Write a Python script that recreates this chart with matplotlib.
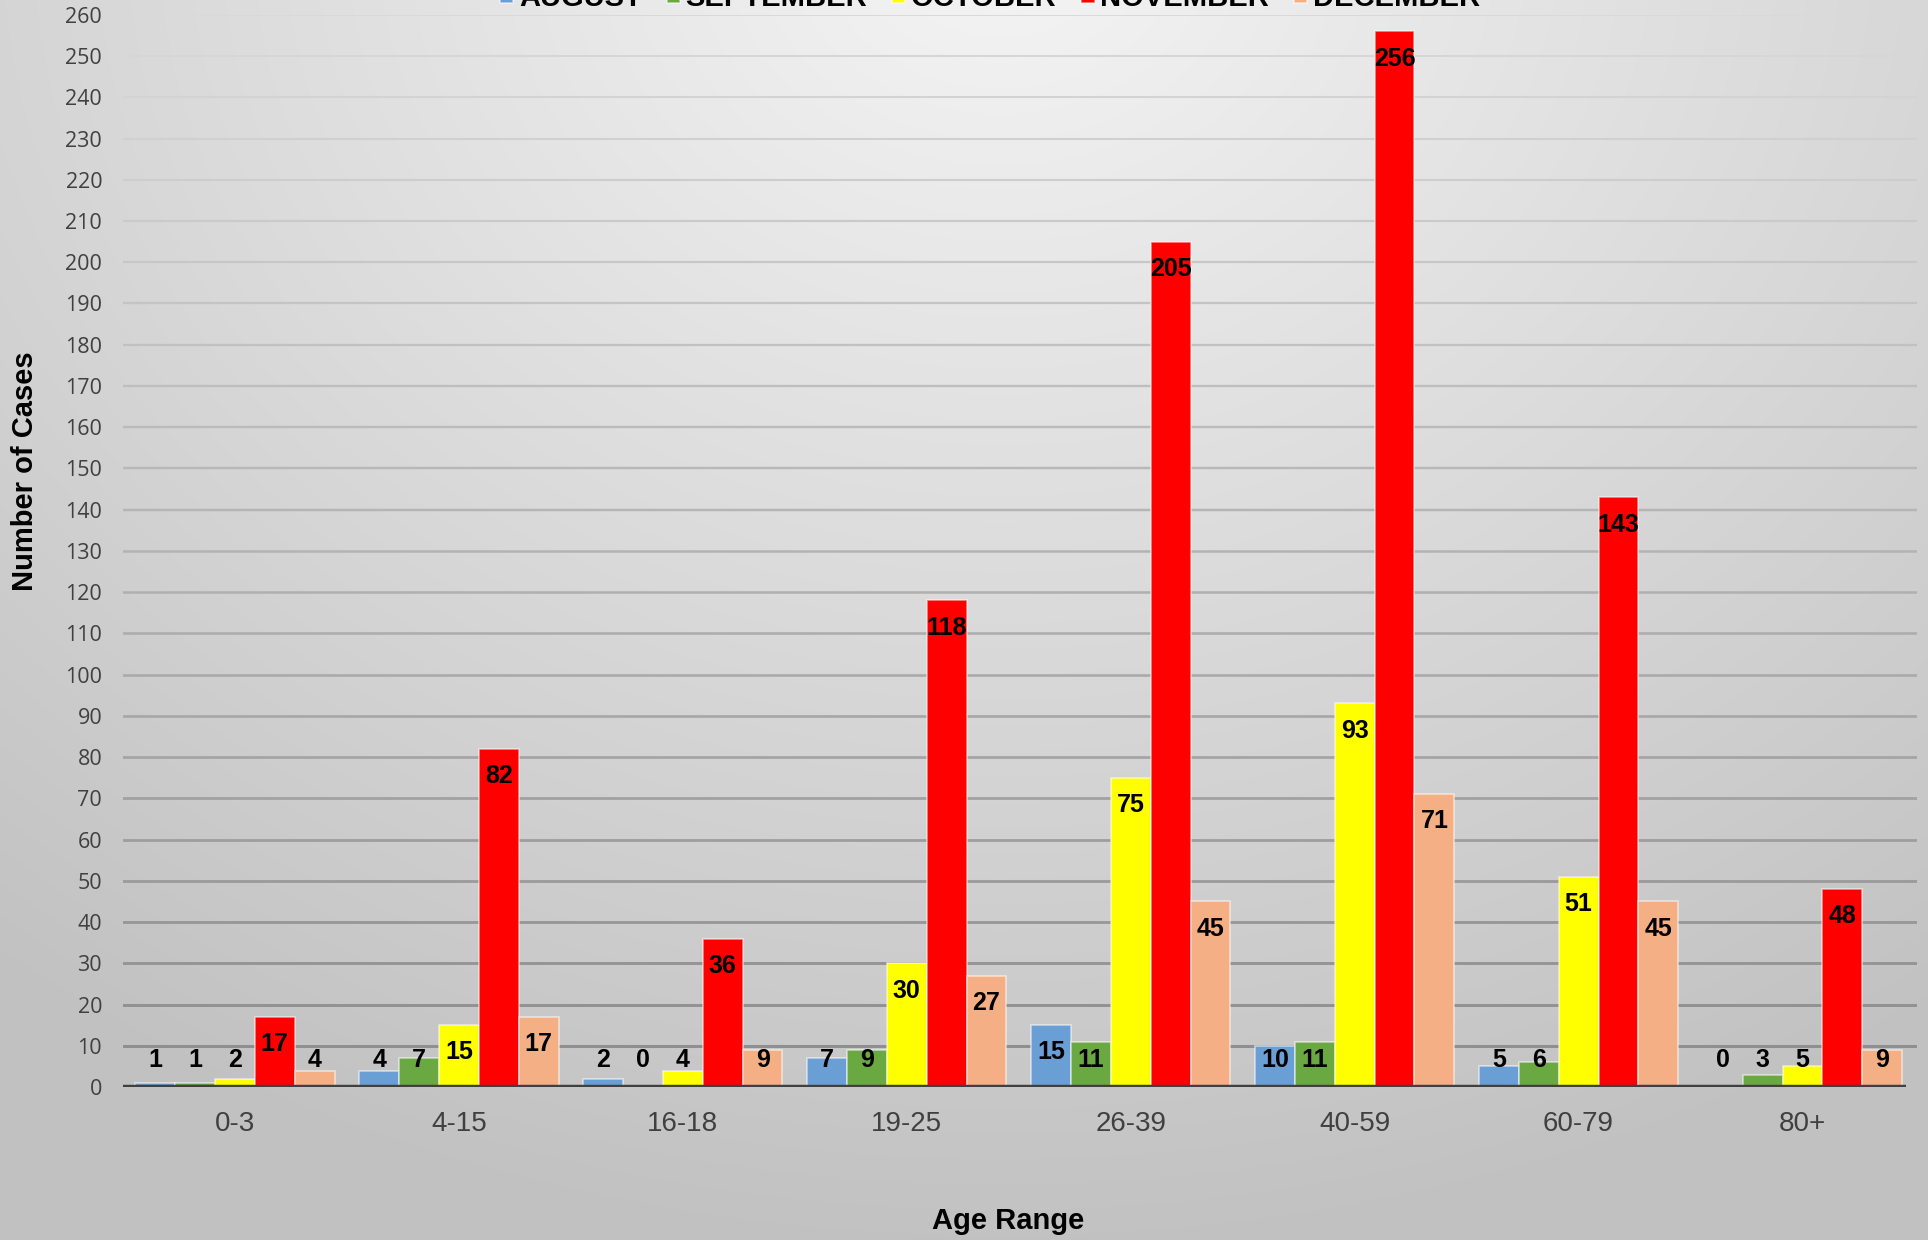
import numpy as np
import matplotlib
matplotlib.use("Agg")
import matplotlib.pyplot as plt

categories = ["0-3", "4-15", "16-18", "19-25", "26-39", "40-59", "60-79", "80+"]
series_names = ["AUGUST", "SEPTEMBER", "OCTOBER", "NOVEMBER", "DECEMBER"]
august = [1, 4, 2, 7, 15, 10, 5, 0]
september = [1, 7, 0, 9, 11, 11, 6, 3]
october = [2, 15, 4, 30, 75, 93, 51, 5]
november = [17, 82, 36, 118, 205, 256, 143, 48]
december = [4, 17, 9, 27, 45, 71, 45, 9]
series = [august, september, october, november, december]
colors = ["#6a9fd6", "#6aa842", "#ffff00", "#ff0000", "#f4b084"]
yticks = list(range(0, 261, 10))

W, H = 1928, 1240
fig = plt.figure(figsize=(W / 100, H / 100), dpi=100)

# background radial gradient
bg = fig.add_axes([0, 0, 1, 1], zorder=-10)
yy, xx = np.mgrid[0:H, 0:W]
cx, cy = 1000, -60
d = np.sqrt(((xx - cx) / 1600.0) ** 2 + ((yy - cy) / 1300.0) ** 2)
d = np.clip(d, 0, 1)
val = 0.96 - 0.20 * d
bg.imshow(np.dstack([val, val, val]), aspect="auto", extent=[0, W, H, 0])
bg.set_xlim(0, W)
bg.set_ylim(H, 0)
bg.axis("off")

# axes geometry
left, right = 123, 1917
y0, ytop = 1087, 14.8
ax = fig.add_axes([left / W, 1 - y0 / H, (right - left) / W, (y0 - ytop) / H])
ax.patch.set_alpha(0)
px_per_cat = (1914.5 - 123) / 8.0
ax.set_xlim(-0.5, 7.5 + (right - 1914.5) / px_per_cat)
ax.set_ylim(0, 260)
for s in ax.spines.values():
    s.set_visible(False)

# gridlines with slight gradient
for t in yticks[1:]:
    f = t / 260.0
    c = 0.55 + 0.30 * f
    ax.axhline(t, color=(c, c, c), lw=2.2 - 0.8 * f, zorder=1)

n = len(series)
bw = 0.178
x = np.arange(len(categories))
handles = []
for i, (vals, col) in enumerate(zip(series, colors)):
    pos = x + (i - (n - 1) / 2) * bw
    b = ax.bar(pos, vals, width=bw, color=col, edgecolor=(1, 1, 1, 0.55),
               linewidth=1.2, zorder=3, label=series_names[i])
    handles.append(b)
    for p, v in zip(pos, vals):
        ly = max(v - 6.6, 6.56)
        ax.text(p, ly, str(v), ha="center", va="center", fontsize=18,
                fontweight="bold", color="black", zorder=5,
                family=["Liberation Sans", "DejaVu Sans"])

ax.hlines(0, -0.5, 7.46, color="#404040", lw=3.2, zorder=4)

ax.set_yticks(yticks)
ax.set_yticklabels([str(t) for t in yticks], fontsize=15.5, color="#404040",
                   family=["Open Sans", "DejaVu Sans"])
ax.set_xticks(x)
ax.set_xticklabels(categories, fontsize=20, color="#404040",
                   family=["Liberation Sans", "DejaVu Sans"])
ax.tick_params(axis="y", length=0, pad=15)
ax.tick_params(axis="x", length=0, pad=17)

fig.text(24.6 / W, 1 - 471 / H, "Number of Cases", rotation=90, ha="center",
         va="center", fontsize=21, fontweight="bold", color="black",
         family=["Liberation Sans", "DejaVu Sans"])
fig.text(1008 / W, 1 - 1221 / H, "Age Range", ha="center", va="center",
         fontsize=21, fontweight="bold", color="black",
         family=["Liberation Sans", "DejaVu Sans"])

# legend (cut off at top as in reference)
leg = fig.legend(handles=handles, labels=series_names, loc="center",
                 bbox_to_anchor=(990 / W, 1 + 2 / H), ncol=5, frameon=False,
                 handlelength=0.45, handleheight=0.45, handletextpad=0.2,
                 columnspacing=0.85,
                 prop={"family": "Liberation Sans", "weight": "bold", "size": 21})

fig.savefig("out.png", dpi=100)
